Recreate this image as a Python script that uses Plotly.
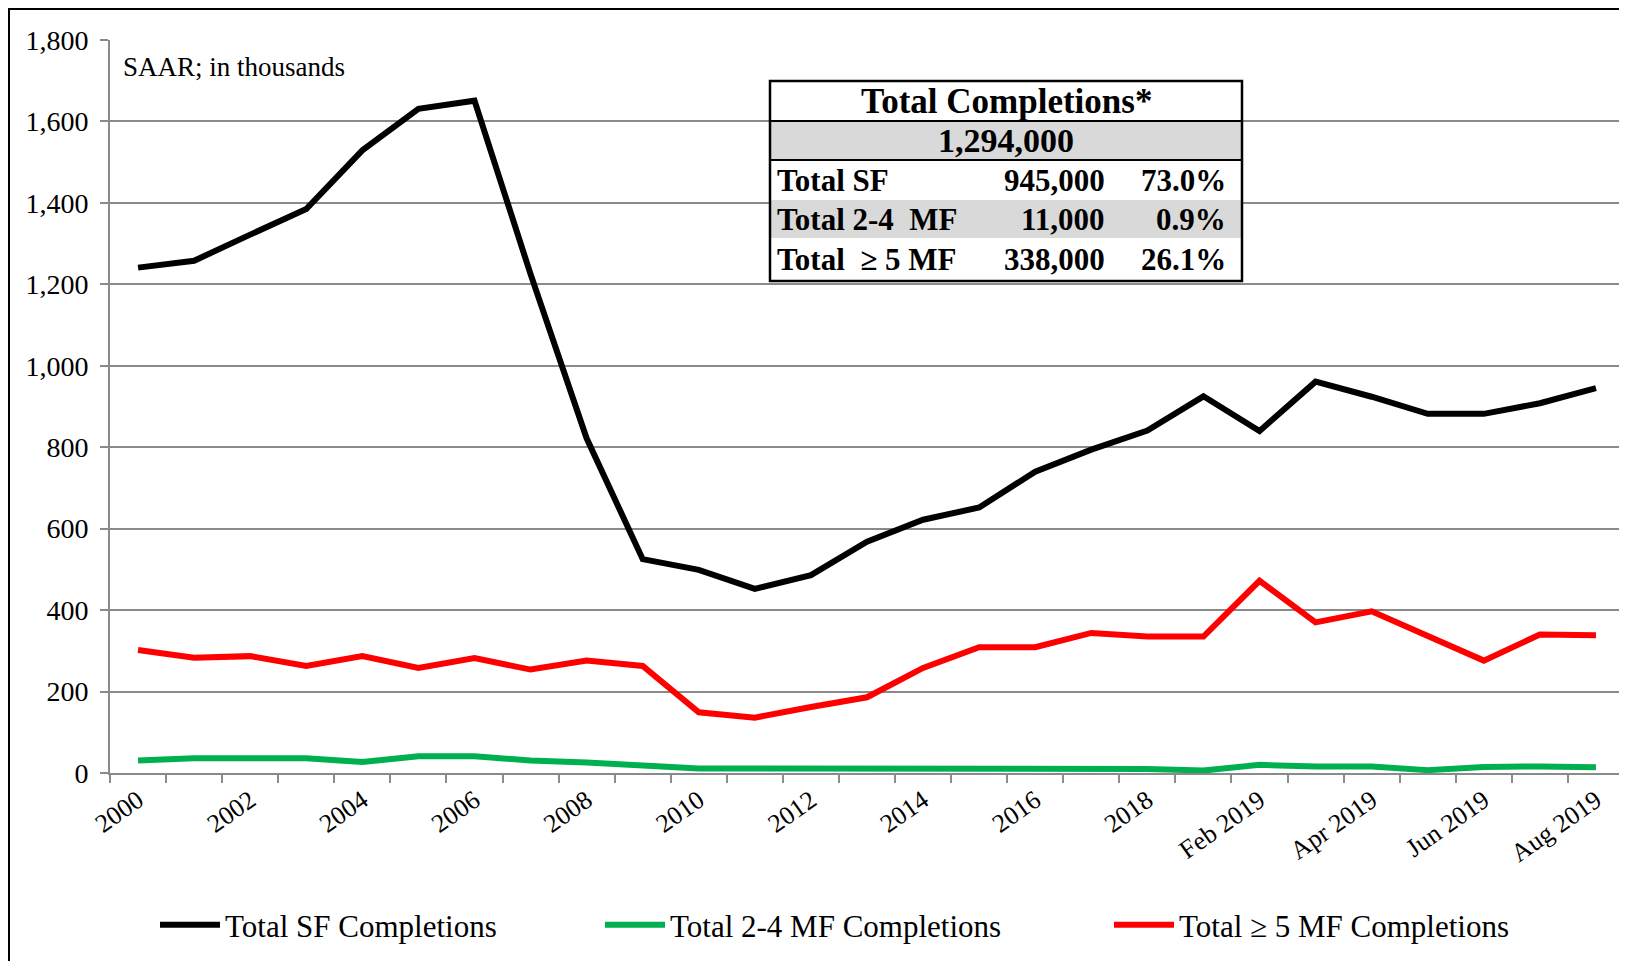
import plotly.graph_objects as go

# categories on the x axis (annual, then monthly 2019)
categories = [str(y) for y in range(2000, 2019)] + [
    "Jan 2019", "Feb 2019", "Mar 2019", "Apr 2019",
    "May 2019", "Jun 2019", "Jul 2019", "Aug 2019",
]

# SAAR, thousands
sf_completions = [1241, 1258, 1322, 1385, 1529, 1631, 1651, 1225, 822, 525,
                  499, 452, 486, 568, 622, 652, 740, 794, 841, 925,
                  840, 961, 924, 882, 882, 908, 945]
mf24_completions = [31, 36, 36, 36, 27, 41, 41, 31, 26, 17,
                    11, 11, 11, 11, 11, 11, 11, 11, 10, 6,
                    20, 16, 16, 7, 15, 16, 14]
mf5_completions = [302, 283, 287, 263, 287, 258, 282, 254, 276, 263,
                   149, 136, 162, 186, 258, 309, 309, 344, 335, 335,
                   472, 370, 397, 337, 276, 340, 338]

# summary box
table_title = "Total Completions*"
table_total = "1,294,000"
table_labels = ["Total SF", "Total 2-4  MF", "Total  \u2265 5 MF"]
table_counts = ["945,000", "11,000", "338,000"]
table_shares = ["73.0%", "0.9%", "26.1%"]

W, H = 1627, 961
OFF = 8  # page body margin
ML, MR, MT, MB = 102, 11, 32, 196
PW, PH = W - ML - MR, H - MT - MB


# screen pixel -> paper fraction
def px(x):
    return (x - OFF - ML) / PW


def py(y):
    return (H - MB - (y - OFF)) / PH


FONT = "Liberation Serif"
GRID = "#8a8a8a"
x = list(range(len(categories)))

fig = go.Figure()
fig.add_trace(go.Scatter(x=x, y=sf_completions, mode="lines", name="Total SF Completions",
                         line=dict(color="#000000", width=6), legendwidth=370))
fig.add_trace(go.Scatter(x=x, y=mf24_completions, mode="lines", name="Total 2-4 MF Completions",
                         line=dict(color="#00b050", width=6), legendwidth=434))
fig.add_trace(go.Scatter(x=x, y=mf5_completions, mode="lines", name="Total \u2265 5 MF Completions",
                         line=dict(color="#ff0000", width=6)))

shapes = [
    # white chart panel with black frame
    dict(type="rect", xref="paper", yref="paper", x0=px(9), x1=px(1680), y0=py(1000), y1=py(9),
         fillcolor="white", line=dict(color="black", width=2), layer="below"),
]

annotations = [
    dict(text="SAAR; in thousands", xref="paper", yref="paper", x=px(121), y=py(67),
         xanchor="left", yanchor="middle", showarrow=False,
         font=dict(family=FONT, size=27, color="black")),
]

# summary table
tl, tr = 770, 1242
row_edges = [81, 121, 160, 200, 238, 281]
shapes.append(dict(type="rect", xref="paper", yref="paper", x0=px(tl), x1=px(tr),
                   y0=py(row_edges[-1]), y1=py(row_edges[0]), fillcolor="white",
                   line=dict(width=0), layer="above"))
for i in (1, 3):
    shapes.append(dict(type="rect", xref="paper", yref="paper", x0=px(tl), x1=px(tr),
                       y0=py(row_edges[i + 1]), y1=py(row_edges[i]), fillcolor="#d9d9d9",
                       line=dict(width=0), layer="above"))
for i in (1, 2):
    shapes.append(dict(type="line", xref="paper", yref="paper", x0=px(tl), x1=px(tr),
                       y0=py(row_edges[i]), y1=py(row_edges[i]), line=dict(color="black", width=2),
                       layer="above"))
shapes.append(dict(type="rect", xref="paper", yref="paper", x0=px(tl), x1=px(tr),
                   y0=py(row_edges[-1]), y1=py(row_edges[0]), fillcolor="rgba(0,0,0,0)",
                   line=dict(color="black", width=2.5), layer="above"))


def mid(i):
    return py((row_edges[i] + row_edges[i + 1]) / 2)


annotations.append(dict(text="<b>%s</b>" % table_title, xref="paper", yref="paper",
                        x=px((tl + tr) / 2), y=mid(0), xanchor="center", yanchor="middle",
                        showarrow=False, font=dict(family=FONT, size=35, color="black")))
annotations.append(dict(text="<b>%s</b>" % table_total, xref="paper", yref="paper",
                        x=px((tl + tr) / 2), y=mid(1), xanchor="center", yanchor="middle",
                        showarrow=False, font=dict(family=FONT, size=34, color="black")))
for k, (lab, cnt, shr) in enumerate(zip(table_labels, table_counts, table_shares)):
    r = mid(k + 2)
    annotations.append(dict(text="<b>%s</b>" % lab, xref="paper", yref="paper", x=px(775), y=r,
                            xanchor="left", yanchor="middle", showarrow=False,
                            font=dict(family=FONT, size=31, color="black")))
    annotations.append(dict(text="<b>%s</b>" % cnt, xref="paper", yref="paper", x=px(1107), y=r,
                            xanchor="right", yanchor="middle", showarrow=False,
                            font=dict(family=FONT, size=31, color="black")))
    annotations.append(dict(text="<b>%s</b>" % shr, xref="paper", yref="paper", x=px(1228), y=r,
                            xanchor="right", yanchor="middle", showarrow=False,
                            font=dict(family=FONT, size=31, color="black")))

fig.update_layout(
    width=W, height=H,
    margin=dict(l=ML, r=MR, t=MT, b=MB, pad=0),
    paper_bgcolor="#e8e8e6",
    plot_bgcolor="white",
    font=dict(family=FONT, color="black"),
    showlegend=True,
    legend=dict(orientation="h", x=px(155), y=py(925), xanchor="left", yanchor="middle",
                font=dict(family=FONT, size=31, color="black"), bgcolor="rgba(0,0,0,0)",
                itemwidth=60, tracegroupgap=0),
    shapes=shapes,
    annotations=annotations,
)

fig.update_xaxes(
    range=[-0.5, len(categories) - 0.5],
    tickmode="array", tickvals=x[::2], ticktext=categories[::2],
    tickangle=-35, ticks="", showgrid=False,
    showline=True, linecolor=GRID, linewidth=2,
    tickfont=dict(family=FONT, size=26, color="black"),
    minor=dict(tickmode="array", tickvals=[v - 0.5 for v in x] + [x[-1] + 0.5],
               ticks="outside", ticklen=8, tickcolor=GRID, tickwidth=2, showgrid=False),
    zeroline=False,
)
fig.update_yaxes(
    range=[0, 1800], dtick=200, tickformat=",d",
    showgrid=True, gridcolor=GRID, gridwidth=2,
    showline=True, linecolor=GRID, linewidth=2,
    ticks="outside", ticklen=8, tickcolor=GRID, tickwidth=2,
    tickfont=dict(family=FONT, size=28, color="black"),
    ticklabelstandoff=6, zeroline=False,
)

fig.write_html("out.html")
